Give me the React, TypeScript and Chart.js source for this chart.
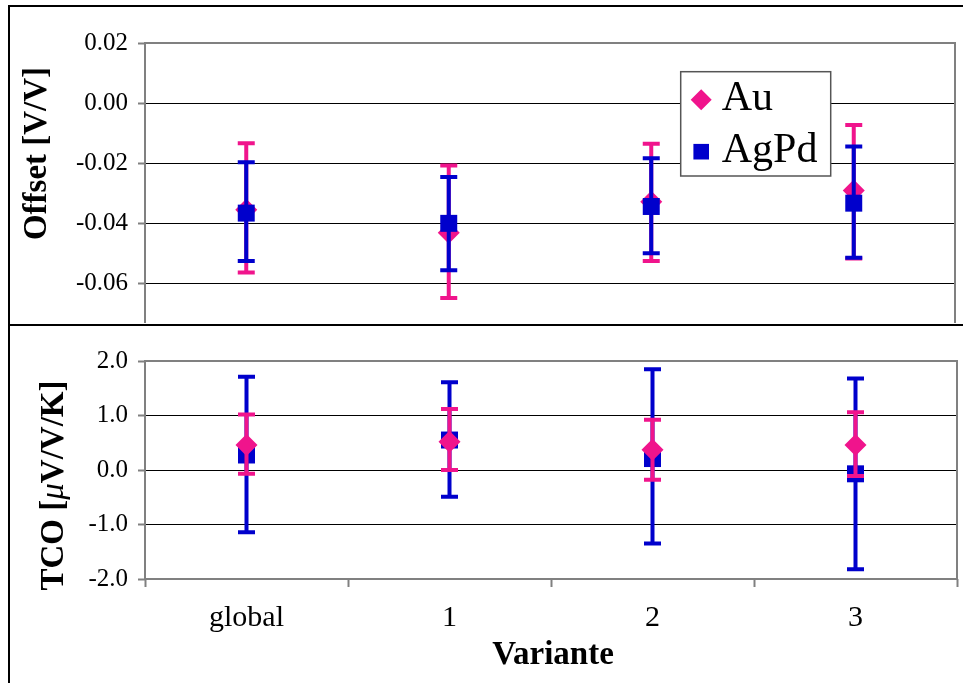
import React, { useEffect, useRef } from "react";
import { Chart, registerables } from "chart.js";

Chart.register(...registerables);

// ---------- data ----------
const categories = ["global", "1", "2", "3"];

const offsetTicks = [0.02, 0.0, -0.02, -0.04, -0.06];
const tcoTicks = [2, 1, 0, -1, -2];

const auOffset = [-0.0354, -0.043, -0.0327, -0.029];
const auOffsetLow = [-0.0562, -0.0647, -0.0524, -0.0516];
const auOffsetHigh = [-0.0133, -0.0207, -0.0135, -0.0072];

const agpdOffset = [-0.0365, -0.0399, -0.0343, -0.0332];
const agpdOffsetLow = [-0.0524, -0.0555, -0.0498, -0.0513];
const agpdOffsetHigh = [-0.0196, -0.0245, -0.0183, -0.0144];

const auTco = [0.46, 0.52, 0.37, 0.46];
const auTcoLow = [-0.07, 0.0, -0.18, -0.11];
const auTcoHigh = [1.02, 1.12, 0.92, 1.06];

const agpdTco = [0.275, 0.55, 0.21, -0.07];
const agpdTcoLow = [-1.14, -0.49, -1.35, -1.82];
const agpdTcoHigh = [1.71, 1.61, 1.85, 1.68];

// ---------- styles ----------
const PINK = "#F0148C";
const BLUE = "#0000CC";
const GRAY = "#808080";
const SERIF = '"Liberation Serif", "Times New Roman", serif';

// error bars drawn through the y scale, before each dataset's markers
const errorBarPlugin = {
  id: "errorBars",
  beforeDatasetDraw(chart: any, args: any) {
    const ds: any = chart.data.datasets[args.index];
    if (!ds.errLow) return;
    const ys = chart.scales.y;
    const ctx = chart.ctx;
    ctx.save();
    ctx.strokeStyle = ds.borderColor;
    ctx.lineWidth = 4;
    ctx.lineCap = "butt";
    args.meta.data.forEach((pt: any, i: number) => {
      const x = pt.x;
      const yl = ys.getPixelForValue(ds.errLow[i]);
      const yh = ys.getPixelForValue(ds.errHigh[i]);
      const cap = 8.5;
      ctx.beginPath();
      ctx.moveTo(x, yl);
      ctx.lineTo(x, yh);
      ctx.moveTo(x - cap, yl);
      ctx.lineTo(x + cap, yl);
      ctx.moveTo(x - cap, yh);
      ctx.lineTo(x + cap, yh);
      ctx.stroke();
    });
    ctx.restore();
  },
};

// plot-area frame
const plotFramePlugin = {
  id: "plotFrame",
  beforeDatasetsDraw(chart: any, _a: any, opts: any) {
    const { ctx, chartArea } = chart;
    const { left, right, top, bottom } = chartArea;
    ctx.save();
    ctx.strokeStyle = GRAY;
    ctx.lineWidth = 2;
    ctx.beginPath();
    ctx.moveTo(left, bottom);
    ctx.lineTo(left, top);
    ctx.lineTo(right, top);
    ctx.lineTo(right, bottom);
    if (opts && opts.bottom) ctx.lineTo(left, bottom);
    ctx.stroke();
    ctx.restore();
  },
};

// axis titles (rotated y title made of styled pieces, optional x title)
const titlesPlugin = {
  id: "panelTitles",
  afterDraw(chart: any, _a: any, opts: any) {
    const { ctx, chartArea } = chart;
    ctx.save();
    ctx.fillStyle = "#000";
    if (opts.yParts) {
      const parts = opts.yParts as { t: string; f: string }[];
      let total = 0;
      parts.forEach((p) => {
        ctx.font = p.f;
        total += ctx.measureText(p.t).width;
      });
      ctx.translate(chartArea.left + opts.yDx, chartArea.top + opts.yDy);
      ctx.rotate(-Math.PI / 2);
      ctx.textBaseline = "alphabetic";
      ctx.textAlign = "left";
      let x = -total / 2;
      parts.forEach((p) => {
        ctx.font = p.f;
        ctx.fillText(p.t, x, 0);
        x += ctx.measureText(p.t).width;
      });
      ctx.setTransform(1, 0, 0, 1, 0, 0);
    }
    if (opts.xTitle) {
      ctx.font = opts.xFont;
      ctx.textAlign = "center";
      ctx.textBaseline = "alphabetic";
      ctx.fillText(
        opts.xTitle,
        (chartArea.left + chartArea.right) / 2 + opts.xDx,
        chartArea.bottom + opts.xDy
      );
    }
    ctx.restore();
  },
};

// boxed legend inside the plot area
const boxLegendPlugin = {
  id: "boxLegend",
  afterDraw(chart: any, _a: any, opts: any) {
    if (!opts || !opts.show) return;
    const { ctx, chartArea } = chart;
    const bx = chartArea.left + opts.dx;
    const by = chartArea.top + opts.dy;
    const w = opts.w;
    const h = opts.h;
    ctx.save();
    ctx.fillStyle = "#fff";
    ctx.fillRect(bx, by, w, h);
    ctx.strokeStyle = "#555";
    ctx.lineWidth = 1.5;
    ctx.strokeRect(bx, by, w, h);
    ctx.font = `42px ${SERIF}`;
    ctx.textAlign = "left";
    ctx.textBaseline = "alphabetic";
    chart.data.datasets.forEach((ds: any, i: number) => {
      const cy = by + 28 + i * 52;
      const cx = bx + 20.5;
      ctx.fillStyle = ds.pointBackgroundColor;
      ctx.beginPath();
      if (ds.pointStyle === "rectRot") {
        const r = 10.5;
        ctx.moveTo(cx, cy - r);
        ctx.lineTo(cx + r, cy);
        ctx.lineTo(cx, cy + r);
        ctx.lineTo(cx - r, cy);
        ctx.closePath();
      } else {
        const s = 7.8;
        ctx.rect(cx - s, cy - s, 2 * s, 2 * s);
      }
      ctx.fill();
      ctx.fillStyle = "#000";
      ctx.fillText(ds.label, bx + 41, cy + 10);
    });
    ctx.restore();
  },
};

function pointDataset(
  label: string,
  data: number[],
  low: number[],
  high: number[],
  color: string,
  style: string,
  radius: number,
  order: number
) {
  return {
    label,
    data,
    errLow: low,
    errHigh: high,
    showLine: false,
    borderColor: color,
    backgroundColor: color,
    pointBackgroundColor: color,
    pointBorderColor: color,
    pointBorderWidth: 0,
    pointStyle: style,
    pointRadius: radius,
    pointHoverRadius: radius,
    order,
  } as any;
}

const noPad = (s: any) => {
  s.paddingTop = 0;
  s.paddingBottom = 0;
  s.paddingLeft = 0;
  s.paddingRight = 0;
};

export default function App() {
  const topRef = useRef<HTMLCanvasElement>(null);
  const botRef = useRef<HTMLCanvasElement>(null);

  useEffect(() => {
    const yTickFont = { family: SERIF, size: 25 };

    const top = new Chart(topRef.current as HTMLCanvasElement, {
      type: "line",
      data: {
        labels: categories,
        datasets: [
          pointDataset("Au", auOffset, auOffsetLow, auOffsetHigh, PINK, "rectRot", 11, 1),
          pointDataset("AgPd", agpdOffset, agpdOffsetLow, agpdOffsetHigh, BLUE, "rect", 12, 0),
        ],
      },
      options: {
        responsive: false,
        animation: false,
        devicePixelRatio: 1,
        layout: { autoPadding: false, padding: { left: 0, top: 43, right: 8, bottom: 3 } },
        plugins: {
          legend: { display: false },
          tooltip: { enabled: false },
          plotFrame: { bottom: false },
          panelTitles: {
            yParts: [{ t: "Offset [V/V]", f: `bold 33px ${SERIF}` }],
            yDx: -99,
            yDy: 110.5,
          },
          boxLegend: { show: true, dx: 535.7, dy: 28.7, w: 150, h: 104.3 },
        } as any,
        scales: {
          x: {
            type: "category",
            offset: true,
            display: false,
            afterFit: noPad,
          },
          y: {
            min: -0.073,
            max: 0.02,
            afterBuildTicks: (s: any) => {
              s.ticks = offsetTicks.map((v) => ({ value: v }));
            },
            afterFit: (s: any) => {
              s.width = 145;
              noPad(s);
            },
            ticks: {
              font: yTickFont,
              color: "#000",
              padding: 10,
              callback: (v: any) => Number(v).toFixed(2),
            },
            grid: {
              color: "#000",
              lineWidth: 1,
              tickLength: 7,
              tickColor: GRAY,
              tickWidth: 2,
            },
            border: { display: false },
          },
        },
      } as any,
      plugins: [errorBarPlugin, plotFramePlugin, titlesPlugin, boxLegendPlugin],
    });

    const bot = new Chart(botRef.current as HTMLCanvasElement, {
      type: "line",
      data: {
        labels: categories,
        datasets: [
          pointDataset("Au", auTco, auTcoLow, auTcoHigh, PINK, "rectRot", 11, 0),
          pointDataset("AgPd", agpdTco, agpdTcoLow, agpdTcoHigh, BLUE, "rect", 12, 1),
        ],
      },
      options: {
        responsive: false,
        animation: false,
        devicePixelRatio: 1,
        layout: { autoPadding: false, padding: { left: 0, top: 35, right: 6, bottom: 0 } },
        plugins: {
          legend: { display: false },
          tooltip: { enabled: false },
          plotFrame: { bottom: true },
          panelTitles: {
            yParts: [
              { t: "TCO [", f: `bold 33px ${SERIF}` },
              { t: "\u03bc", f: `italic 33px ${SERIF}` },
              { t: "V/V/K]", f: `bold 33px ${SERIF}` },
            ],
            yDx: -82,
            yDy: 124.5,
            xTitle: "Variante",
            xFont: `bold 33px ${SERIF}`,
            xDx: 2,
            xDy: 85,
          },
          boxLegend: { show: false },
        } as any,
        scales: {
          x: {
            type: "category",
            offset: true,
            afterFit: (s: any) => {
              s.height = 104;
              noPad(s);
            },
            ticks: {
              font: { family: SERIF, size: 30 },
              color: "#000",
              padding: 13,
              maxRotation: 0,
              autoSkip: false,
            },
            grid: {
              offset: true,
              drawOnChartArea: false,
              drawTicks: true,
              tickLength: 8,
              tickColor: GRAY,
              tickWidth: 2,
            },
            border: { display: false },
          },
          y: {
            min: -2,
            max: 2,
            afterBuildTicks: (s: any) => {
              s.ticks = tcoTicks.map((v) => ({ value: v }));
            },
            afterFit: (s: any) => {
              s.width = 145;
              noPad(s);
            },
            ticks: {
              font: yTickFont,
              color: "#000",
              padding: 10,
              callback: (v: any) => Number(v).toFixed(1),
            },
            grid: {
              color: "#000",
              lineWidth: 1,
              tickLength: 7,
              tickColor: GRAY,
              tickWidth: 2,
            },
            border: { display: false },
          },
        },
      } as any,
      plugins: [errorBarPlugin, plotFramePlugin, titlesPlugin],
    });

    return () => {
      top.destroy();
      bot.destroy();
    };
  }, []);

  return (
    <div
      style={{
        position: "fixed",
        left: 0,
        top: 0,
        width: 963,
        height: 683,
        overflow: "hidden",
        background: "#fff",
      }}
    >
      <canvas
        ref={topRef}
        width={963}
        height={326}
        style={{ position: "absolute", left: 0, top: 0 }}
      />
      <canvas
        ref={botRef}
        width={963}
        height={357}
        style={{ position: "absolute", left: 0, top: 326 }}
      />
      <div
        style={{
          position: "absolute",
          left: 8,
          top: 5,
          width: 1000,
          height: 321,
          border: "2px solid #000",
          boxSizing: "border-box",
          pointerEvents: "none",
        }}
      />
      <div
        style={{
          position: "absolute",
          left: 8,
          top: 324,
          width: 1000,
          height: 400,
          border: "2px solid #000",
          boxSizing: "border-box",
          pointerEvents: "none",
        }}
      />
    </div>
  );
}
